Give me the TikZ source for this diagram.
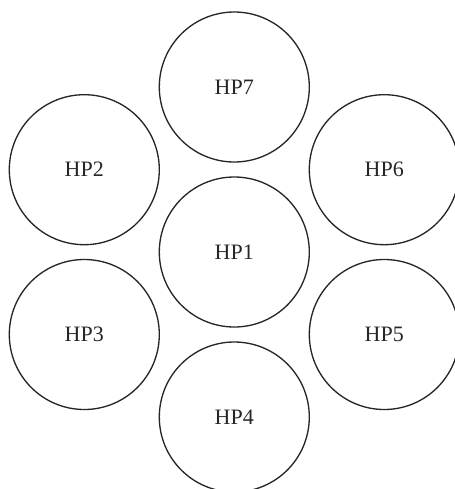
\documentclass[tikz,border=0pt]{standalone}
\usepackage{fontspec}
\setmainfont{Liberation Serif}
\begin{document}
\begin{tikzpicture}[x=0.75pt,y=-0.75pt,
  hp/.style={draw=black!85,line width=1pt,circle,minimum size=150*0.75pt,inner sep=0pt,font=\fontsize{16.5}{18}\selectfont,text=black!85}]
\useasboundingbox (0,0) rectangle (454,489);
\node[hp] (hp7) at (234.3,87) {HP7};
\node[hp] (hp2) at (84.3,169.7) {HP2};
\node[hp] (hp6) at (384.3,169.7) {HP6};
\node[hp] (hp1) at (234.3,252) {HP1};
\node[hp] (hp3) at (84.3,334.5) {HP3};
\node[hp] (hp5) at (384.3,334.5) {HP5};
\node[hp] (hp4) at (234.3,417) {HP4};
\end{tikzpicture}
\end{document}
